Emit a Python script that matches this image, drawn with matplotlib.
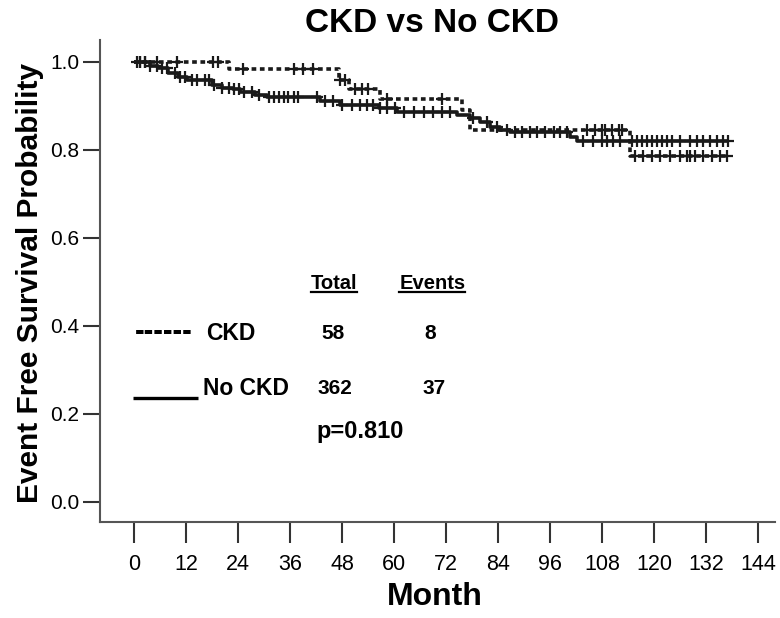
import matplotlib
matplotlib.use("Agg")
import matplotlib.pyplot as plt
import numpy as np

# ---------------- data ----------------
# No CKD (solid): step times (months) and survival levels after each step
nockd_times = [0, 3.7, 5.6, 7.9, 10.2, 12.2, 17.9, 20.2, 22.9, 24.5, 28.0, 30.6,
               42.9, 47.5, 56.5, 60.6, 74.5, 77.5, 79.8, 82.2, 84.5, 86.8,
               100.6, 102.2]
nockd_surv = [1.0, 0.992, 0.986, 0.975, 0.967, 0.959, 0.948, 0.942, 0.938, 0.932,
              0.926, 0.921, 0.912, 0.902, 0.895, 0.887, 0.880, 0.872, 0.864,
              0.853, 0.846, 0.842, 0.830, 0.821]
nockd_end = 137.0
nockd_censor = [0.6, 1.4, 2.5, 3.7, 5.2, 6.4, 7.5, 9.5, 10.6, 11.8, 13.3, 14.6,
                16.4, 17.3, 18.5, 20.4, 21.9, 23.1, 24.2, 25.4, 27.3, 28.8, 31.1,
                32.2, 33.4, 34.5, 35.6, 36.8, 37.9, 42.2, 44.1, 46.0, 47.9, 50.2,
                52.2, 53.7, 55.2, 56.8, 58.3, 60.2, 62.2, 64.5, 66.8, 69.1, 71.0,
                72.9, 78.3, 81.4, 83.7, 86.0, 87.9, 89.5, 91.4, 92.9, 94.8, 96.8,
                98.3, 99.9, 103.7, 106.0, 107.9, 109.1, 110.6, 112.2, 114.9,
                116.0, 117.2, 118.3, 119.5, 120.6, 121.8, 122.9, 124.1, 126.0,
                128.3, 129.8, 131.4, 132.9, 134.5, 136.0, 137.0]

# CKD (dashed)
ckd_times = [0, 21.9, 47.2, 49.5, 56.8, 75.6, 77.5, 114.5]
ckd_surv = [1.0, 0.983, 0.959, 0.938, 0.917, 0.891, 0.845, 0.787]
ckd_end = 137.0
ckd_censor = [1.4, 2.5, 5.2, 10.0, 18.3, 19.4, 25.2, 36.8, 39.1, 41.4, 47.5,
              48.7, 51.0, 52.5, 54.1, 58.3, 71.0, 104.5, 106.4, 107.9, 108.7,
              110.2, 111.8, 112.5, 115.6, 117.5, 119.5, 121.4, 123.7, 126.0,
              127.5, 128.3, 129.5, 131.4, 133.3, 135.2, 136.8]

xticks = list(range(0, 145, 12))
yticks = [0.0, 0.2, 0.4, 0.6, 0.8, 1.0]

groups = ["CKD", "No CKD"]
totals = [58, 362]
events = [8, 37]
p_text = "p=0.810"

title = "CKD vs No CKD"
xlabel = "Month"
ylabel = "Event Free Survival Probability"

# ---------------- helpers ----------------
def surv_at(times, surv, t):
    idx = np.searchsorted(times, t, side="right") - 1
    return np.asarray(surv)[idx]

# ---------------- figure ----------------
W, H = 780, 618
fig = plt.figure(figsize=(W / 100, H / 100), dpi=100)
ax = fig.add_axes([100 / W, 1 - 522 / H, (775 - 100) / W, (522 - 40) / H])

sans = ["Liberation Sans", "DejaVu Sans"]
ink = "#1a1a1a"

# curves
for times, surv, end, cens, ls in [
    (nockd_times, nockd_surv, nockd_end, nockd_censor, "-"),
    (ckd_times, ckd_surv, ckd_end, ckd_censor, (0, (1.3, 1.0))),
]:
    xs = list(times) + [end]
    ys = list(surv) + [surv[-1]]
    ax.step(xs, ys, where="post", color=ink, lw=2.6, linestyle=ls,
            solid_capstyle="butt")
    cy = surv_at(times, surv, np.asarray(cens))
    ax.plot(cens, cy, linestyle="none", marker="+", markersize=8,
            markeredgewidth=1.6, color=ink)

ax.set_xlim(-7.85, 147.9)
ax.set_ylim(-0.0455, 1.05)
ax.set_xticks(xticks)
ax.set_yticks(yticks)
ax.set_xticklabels([str(t) for t in xticks], family=sans, fontsize=15.5)
ax.set_yticklabels([f"{v:.1f}" for v in yticks], family=sans, fontsize=15)
ax.tick_params(axis="x", length=15, width=1.5, color="#333333", pad=8)
ax.tick_params(axis="y", length=12, width=1.5, color="#333333", pad=3)

for s in ["top", "right"]:
    ax.spines[s].set_visible(False)
for s in ["left", "bottom"]:
    ax.spines[s].set_color("#555555")
    ax.spines[s].set_linewidth(1.5)

fig.text(432 / W, 1 - 24 / H, title, ha="center", va="center",
         family=sans, fontweight="bold", fontsize=24)
fig.text(435 / W, 1 - 597 / H, xlabel, ha="center", va="center",
         family=sans, fontweight="bold", fontsize=23)
fig.text(30 / W, 1 - 283 / H, ylabel, ha="center", va="center", rotation=90,
         family=sans, fontweight="bold", fontsize=21.5)

# legend-like table
tb = dict(family=sans, fontweight="bold", color="black")
t_total = ax.text(46.2, 0.497, "Total", ha="center", va="center", fontsize=14.5, **tb)
t_events = ax.text(68.8, 0.497, "Events", ha="center", va="center", fontsize=14.5, **tb)
ax.text(0.2, 0.386, "------", ha="left", va="center", fontsize=21, **tb)
ax.text(16.6, 0.384, groups[0], ha="left", va="center", fontsize=16.5, **tb)
ax.plot([-0.2, 14.8], [0.236, 0.236], color="black", lw=2.4, solid_capstyle="butt")
ax.text(15.9, 0.258, groups[1], ha="left", va="center", fontsize=16.5, **tb)
ax.text(45.9, 0.384, str(totals[0]), ha="center", va="center", fontsize=15, **tb)
ax.text(68.3, 0.384, str(events[0]), ha="center", va="center", fontsize=15, **tb)
ax.text(46.4, 0.258, str(totals[1]), ha="center", va="center", fontsize=15, **tb)
ax.text(69.2, 0.258, str(events[1]), ha="center", va="center", fontsize=15, **tb)
ax.text(42.0, 0.160, p_text, ha="left", va="center", fontsize=17, **tb)

# underline headers
fig.canvas.draw()
r = fig.canvas.get_renderer()
inv = ax.transData.inverted()
for t in (t_total, t_events):
    bb = t.get_window_extent(r)
    (x0, y0), (x1, _) = inv.transform([(bb.x0, bb.y0), (bb.x1, bb.y0)])
    ax.plot([x0, x1], [y0 + 0.002, y0 + 0.002], color="black", lw=1.6)

fig.savefig("out.png", dpi=100)
